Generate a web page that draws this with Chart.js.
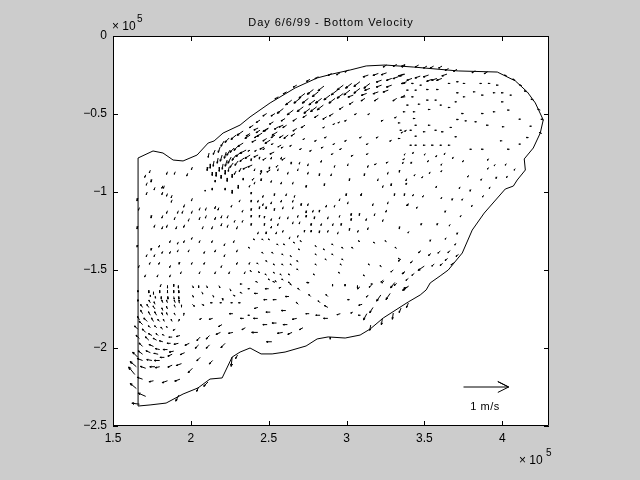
<!DOCTYPE html>
<html>
<head>
<meta charset="utf-8">
<style>
    html, body { margin: 0; padding: 0; background: #cccccc; }
    canvas { display: block; }
</style>
<script src="https://cdn.jsdelivr.net/npm/chart.js@4"></script>
</head>
<body>
<canvas id="chart" width="640" height="480"></canvas>
<script>
// axis ticks (x and y in units of 10^5)
const xTicks = [1.5, 2, 2.5, 3, 3.5, 4];
const yTicks = [0, -0.5, -1, -1.5, -2, -2.5];

// shoreline
const coastX = [1.661,1.661,1.757,1.821,1.886,1.950,2.040,2.111,2.149,2.207,2.316,2.380,2.509,2.670,2.811,2.907,3.023,3.126,3.248,3.428,3.717,3.968,4.084,4.161,4.212,4.263,4.244,4.199,4.141,4.148,4.096,4.071,4.019,3.884,3.807,3.743,3.653,3.601,3.537,3.511,3.473,3.396,3.235,3.152,3.087,2.991,2.882,2.811,2.740,2.605,2.522,2.451,2.380,2.316,2.265,2.201,2.123,2.046,1.950,1.841,1.738,1.661];
const coastY = [-2.372,-0.782,-0.737,-0.750,-0.795,-0.801,-0.763,-0.686,-0.673,-0.622,-0.571,-0.519,-0.429,-0.333,-0.269,-0.244,-0.218,-0.192,-0.186,-0.199,-0.224,-0.231,-0.288,-0.359,-0.429,-0.538,-0.622,-0.718,-0.788,-0.859,-0.923,-0.962,-0.981,-1.135,-1.244,-1.391,-1.500,-1.538,-1.583,-1.628,-1.660,-1.705,-1.808,-1.878,-1.917,-1.936,-1.929,-1.942,-1.987,-2.026,-2.038,-2.038,-2.000,-2.026,-2.058,-2.192,-2.199,-2.256,-2.295,-2.353,-2.365,-2.372];

// scale arrow, 1 m/s
const keyX = [3.751];
const keyY = [-2.25];
const keyU = [1];
const keyV = [0];

// velocities in m/s at each station
const upperWestX = [1.74,1.71,1.85,1.90,1.98,2.01,1.75,1.72,1.82,1.83,1.77,1.72,1.82,1.85,1.88,1.66,1.88,2.01,1.96,1.92,2.06,2.10,2.16,1.67,1.85,1.95,2.01,2.18,1.75,1.82,1.90,1.99,2.06,2.10,2.16,2.20,2.24,1.66,1.77,1.82,1.85,1.91,1.96,2.08,2.14,2.20,2.24,2.30];
const upperWestY = [-0.86,-0.89,-0.87,-0.87,-0.88,-0.84,-0.92,-0.94,-0.96,-0.96,-0.97,-1.00,-1.00,-1.01,-1.02,-1.04,-1.05,-1.04,-1.08,-1.12,-1.10,-1.10,-1.09,-1.10,-1.12,-1.12,-1.12,-1.10,-1.15,-1.15,-1.16,-1.17,-1.16,-1.15,-1.16,-1.15,-1.15,-1.22,-1.21,-1.22,-1.21,-1.22,-1.21,-1.22,-1.22,-1.20,-1.21,-1.22];
const midWestX = [1.66,1.75,1.80,1.87,1.92,1.96,2.01,2.06,2.14,2.22,2.28,1.72,1.77,1.82,1.87,1.92,1.99,2.09,2.16,2.22,2.30,1.67,1.74,1.80,1.87,1.93,2.01,2.09,2.20,2.30,2.38,1.71,1.79,1.87,1.94,2.06,2.16,2.25,2.35];
const midWestY = [-1.34,-1.36,-1.34,-1.31,-1.32,-1.31,-1.29,-1.31,-1.31,-1.33,-1.31,-1.40,-1.40,-1.38,-1.38,-1.37,-1.37,-1.38,-1.37,-1.40,-1.37,-1.47,-1.45,-1.45,-1.47,-1.45,-1.45,-1.45,-1.47,-1.45,-1.45,-1.53,-1.53,-1.53,-1.51,-1.51,-1.51,-1.51,-1.51];

const eddyX = [2.336,2.304,2.278,2.252,2.227,2.201,2.175,2.149,2.124,2.355,2.323,2.291,2.259,2.233,2.207,2.182,2.162,2.137,2.381,2.342,2.304,2.272,2.246,2.22,2.194,2.394,2.362,2.323,2.291,2.265,2.233,2.336,2.291,2.246,2.214,2.188,2.156,2.117,2.419,2.458,2.497,2.381,2.432,2.471,2.51,2.555,2.593,2.432,2.484,2.535,2.58,2.625,2.458,2.51,2.561,2.606,2.407,2.336,2.381,2.304,2.265,2.22,2.137,2.092,2.317,2.265,2.336,2.285,2.336,2.11,2.156];
const eddyY = [-0.686,-0.705,-0.718,-0.731,-0.744,-0.763,-0.782,-0.801,-0.82,-0.731,-0.744,-0.763,-0.776,-0.795,-0.82,-0.84,-0.872,-0.872,-0.763,-0.782,-0.801,-0.814,-0.84,-0.859,-0.891,-0.827,-0.84,-0.846,-0.865,-0.885,-0.91,-0.609,-0.635,-0.654,-0.673,-0.712,-0.731,-0.75,-0.667,-0.622,-0.59,-0.635,-0.59,-0.712,-0.667,-0.615,-0.571,-0.763,-0.782,-0.744,-0.699,-0.635,-0.872,-0.859,-0.827,-0.782,-0.91,-0.91,-0.955,-0.955,-0.987,-0.974,-0.974,-0.987,-1.05,-1.083,-1.115,-1.18,-1.18,-0.84,-0.923];
const eddyU = [-0.11,-0.09,-0.09,-0.07,-0.04,-0.04,-0.02,-0.02,0,-0.13,-0.11,-0.09,-0.07,-0.04,-0.02,0,0,0,-0.11,-0.09,-0.07,-0.07,-0.02,0,0,-0.09,-0.09,-0.04,-0.04,0,0,-0.13,-0.11,-0.09,-0.07,-0.04,-0.04,-0.02,-0.09,-0.11,-0.11,-0.11,-0.09,-0.09,-0.11,-0.11,-0.09,-0.09,-0.07,-0.09,-0.07,-0.09,-0.04,-0.07,-0.04,-0.07,-0.04,0,-0.02,0,0,0,0,0,-0.02,-0.02,-0.02,-0.02,-0.02,-0.02,0];
const eddyV = [-0.07,-0.09,-0.09,-0.11,-0.13,-0.13,-0.11,-0.11,-0.09,-0.07,-0.09,-0.11,-0.13,-0.13,-0.11,-0.09,-0.09,-0.07,-0.07,-0.07,-0.09,-0.09,-0.09,-0.09,-0.07,-0.04,-0.04,-0.07,-0.07,-0.07,-0.07,-0.09,-0.09,-0.09,-0.11,-0.11,-0.09,-0.09,-0.04,-0.07,-0.07,-0.07,-0.04,-0.04,-0.07,-0.07,-0.04,-0.04,-0.04,-0.04,-0.04,-0.07,-0.04,-0.04,-0.04,-0.04,-0.04,-0.04,-0.04,-0.07,-0.07,-0.04,-0.04,-0.02,-0.04,-0.04,-0.04,-0.04,-0.04,-0.07,-0.04];

const gyreX = [1.81,1.85,1.89,1.92,1.73,1.76,1.80,1.85,1.89,1.92,1.74,1.77,1.81,1.85,1.89,1.92,1.66,1.66,1.74,1.77,1.82,1.85,1.90,1.93,1.69,1.73,1.77,1.82,1.85,1.90,1.94,1.69,1.74,1.78,1.82,1.85,1.90,1.95,1.67,1.72,1.76,1.80,1.83,1.88,1.92,1.69,1.74,1.78,1.82,1.85,1.90,1.66,1.71,1.75,1.79,1.83,1.88,1.93,1.67,1.73,1.78,1.82,1.87,1.92,1.99,2.06,2.12,2.19,1.69,1.76,1.80,1.85,1.89,1.96,2.05,2.12,2.22,1.66,1.69,1.74,1.79,1.83,1.88,2.06,2.14,1.65,1.69,1.75,1.80,1.88,1.94,2.01,1.64,1.71,1.77,1.80,1.65,1.69,1.76,1.85,1.93,1.71,1.67];
const gyreY = [-1.59,-1.60,-1.59,-1.60,-1.63,-1.64,-1.63,-1.63,-1.63,-1.63,-1.66,-1.67,-1.67,-1.67,-1.67,-1.67,-1.63,-1.69,-1.71,-1.72,-1.71,-1.71,-1.71,-1.71,-1.74,-1.74,-1.75,-1.76,-1.75,-1.74,-1.74,-1.78,-1.79,-1.79,-1.79,-1.79,-1.79,-1.79,-1.82,-1.83,-1.83,-1.83,-1.83,-1.83,-1.83,-1.85,-1.87,-1.87,-1.88,-1.87,-1.88,-1.88,-1.90,-1.92,-1.92,-1.92,-1.93,-1.92,-1.94,-1.95,-1.95,-1.96,-1.97,-1.97,-1.97,-1.93,-1.92,-1.90,-1.99,-1.99,-2.01,-2.01,-2.02,-2.03,-1.98,-1.98,-1.97,-2.06,-2.04,-2.03,-2.04,-2.06,-2.04,-2.06,-2.08,-2.12,-2.08,-2.08,-2.08,-2.11,-2.10,-2.13,-2.17,-2.13,-2.12,-2.12,-2.26,-2.20,-2.21,-2.21,-2.20,-2.31,-2.36];
const gyreU = [-0.02,0,0,0,0,0,0,0,0,0.01,0,0.01,0,0.01,0.01,0.01,0,0,-0.03,-0.02,-0.02,-0.02,-0.02,-0.02,-0.04,-0.04,-0.04,-0.02,-0.02,-0.02,0,-0.04,-0.04,-0.04,-0.02,-0.02,-0.02,0.02,-0.04,-0.07,-0.04,-0.04,-0.02,-0.02,0.02,-0.07,-0.04,-0.04,-0.04,-0.02,-0.04,-0.07,-0.07,-0.07,-0.04,-0.04,-0.07,-0.07,-0.07,-0.07,-0.07,-0.07,-0.07,-0.09,-0.09,-0.07,-0.07,-0.09,-0.07,-0.09,-0.09,-0.09,-0.09,-0.09,-0.07,-0.07,-0.09,-0.11,-0.09,-0.09,-0.09,-0.09,-0.09,-0.07,-0.07,-0.13,-0.11,-0.11,-0.11,-0.09,-0.11,-0.09,-0.13,-0.11,-0.11,-0.09,-0.13,-0.11,-0.09,-0.11,-0.11,-0.16,-0.16];
const gyreV = [-0.05,-0.05,-0.05,-0.05,-0.05,-0.05,-0.05,-0.05,-0.05,-0.05,-0.03,-0.03,-0.05,-0.05,-0.05,-0.05,-0.03,-0.03,0.05,0.05,0.05,0.05,0.05,0.05,0.06,0.06,0.06,0.05,0.05,0.05,0.05,0.07,0.07,0.07,0.05,0.05,0.04,0.04,0.07,0.07,0.07,0.04,0.04,0.04,0.04,0.07,0.04,0.04,0.04,0.02,-0.02,0.07,0.07,0.04,0.04,0.02,0,-0.02,0.07,0.07,0.04,0.02,0,-0.02,-0.04,-0.07,-0.07,-0.04,0.07,0.04,0.02,0,-0.02,-0.04,-0.07,-0.07,-0.09,0.11,0.07,0.04,0.02,0,-0.04,-0.07,-0.07,0.11,0.04,0.02,0,-0.04,-0.04,-0.09,0.16,0.04,0,-0.02,0.11,0.04,-0.02,-0.04,-0.04,0.07,0.02];

const southX = [2.43,2.54,2.64,2.76,2.91,2.99,3.07,3.17,3.24,3.31,3.39,2.38,2.50,2.58,2.70,2.77,2.88,3.02,3.14,3.22,3.28,2.43,2.49,2.55,2.63,2.69,2.83,2.88,3.10,3.17,2.43,2.51,2.61,2.76,2.83,2.96,3.04,3.09,3.13,2.38,2.43,2.68,2.88,2.49,2.55,2.62,2.72,2.43,2.59,2.65,2.52,2.01,2.05,2.10,2.18,2.25,2.33,2.01,2.07,2.14,2.20,2.27,2.33,2.01,2.07,2.14,2.20,2.27,2.32,2.07,2.14,2.20,2.27,2.34,2.27,2.35];
const southY = [-1.58,-1.58,-1.59,-1.58,-1.59,-1.59,-1.60,-1.59,-1.57,-1.58,-1.61,-1.62,-1.62,-1.61,-1.63,-1.67,-1.67,-1.69,-1.66,-1.66,-1.65,-1.65,-1.69,-1.69,-1.67,-1.72,-1.71,-1.74,-1.72,-1.74,-1.74,-1.77,-1.76,-1.78,-1.79,-1.78,-1.77,-1.79,-1.78,-1.79,-1.81,-1.81,-1.81,-1.85,-1.84,-1.85,-1.87,-1.90,-1.90,-1.90,-1.96,-1.60,-1.60,-1.60,-1.60,-1.62,-1.59,-1.66,-1.64,-1.66,-1.68,-1.66,-1.65,-1.72,-1.72,-1.71,-1.71,-1.71,-1.71,-1.81,-1.81,-1.85,-1.78,-1.81,-1.90,-1.87];
const southU = [-0.04,-0.04,-0.04,-0.04,0,0,0,-0.04,-0.04,-0.09,-0.07,-0.04,-0.07,-0.04,-0.04,-0.04,-0.04,-0.04,-0.04,-0.09,-0.09,-0.07,-0.07,-0.07,-0.07,-0.04,-0.04,-0.07,-0.07,-0.07,-0.07,-0.09,-0.09,-0.07,-0.09,-0.07,-0.04,-0.04,-0.07,-0.04,-0.09,-0.09,-0.09,-0.09,-0.09,-0.09,-0.07,-0.13,-0.11,-0.09,-0.11,0.02,0,0.02,0.02,0.02,-0.04,0.02,0.02,0.02,0.02,0.04,-0.04,0.04,0.04,-0.04,-0.04,-0.04,-0.04,-0.04,-0.07,-0.07,-0.07,-0.07,-0.09,-0.07];
const southV = [0.02,0.02,0.04,0,-0.04,-0.04,-0.04,0,-0.04,-0.11,-0.02,0,0,-0.02,0.04,0.04,0.04,0,-0.04,-0.13,-0.13,0,0,0,0,0.04,0.04,0.04,-0.02,-0.11,-0.02,0,0,0,0,-0.02,-0.02,0,-0.13,0,0,-0.02,0,0,0,0,-0.04,0,-0.02,-0.04,0,-0.04,-0.04,-0.04,-0.04,-0.04,0,-0.04,-0.04,-0.04,-0.04,-0.02,0.02,-0.04,-0.02,0,0,0,0,-0.02,-0.02,-0.04,0,0,-0.02,-0.04];

const northBandX = [2.855,2.787,2.819,2.733,2.701,2.648,2.755,2.797,2.84,2.894,2.941,2.979,3.033,3.086,2.851,2.808,2.765,2.722,2.658,2.594,2.926,3.022,3.086,3.15,2.979];
const northBandY = [-0.321,-0.343,-0.358,-0.368,-0.4,-0.411,-0.4,-0.411,-0.4,-0.379,-0.347,-0.315,-0.304,-0.293,-0.443,-0.454,-0.465,-0.454,-0.475,-0.465,-0.4,-0.347,-0.336,-0.304,-0.368];
const northEastX = [3.14,3.204,3.257,3.375,3.225,3.29,3.332,3.386,3.15,3.225,3.29,3.129,3.204,3.268,3.043,3.366,3.42,3.473,3.527,3.58,3.645,3.548,3.612];
const northEastY = [-0.25,-0.24,-0.236,-0.244,-0.283,-0.272,-0.261,-0.293,-0.336,-0.315,-0.315,-0.368,-0.358,-0.347,-0.379,-0.244,-0.272,-0.257,-0.25,-0.272,-0.244,-0.278,-0.272];
const northInnerX = [2.54,2.487,2.444,2.53,2.605,2.68,2.744,2.819,2.872,2.915,2.979,3.043,3.118,3.204,3.322,3.375,2.401,2.444,2.498,2.562,2.615,2.68,2.733,2.38,2.434,2.487,2.54,2.594,2.669];
const northInnerY = [-0.497,-0.497,-0.539,-0.55,-0.529,-0.529,-0.507,-0.507,-0.518,-0.497,-0.454,-0.422,-0.4,-0.4,-0.4,-0.379,-0.572,-0.604,-0.593,-0.582,-0.572,-0.593,-0.572,-0.625,-0.636,-0.657,-0.636,-0.636,-0.625];
const basinTopX = [2.861,2.926,2.958,3.001,3.065,3.15,3.236,3.322,3.386,2.733,2.808,2.872,2.926,3.001,3.097,3.14,3.204,3.29,3.364,2.38,2.423,2.476,2.53,2.594,2.648,2.712,2.776,2.851,2.915,2.969,3.043,3.14,3.193,3.268,3.375];
const basinTopY = [-0.582,-0.561,-0.55,-0.539,-0.497,-0.497,-0.539,-0.518,-0.604,-0.657,-0.668,-0.646,-0.689,-0.668,-0.646,-0.689,-0.646,-0.668,-0.614,-0.732,-0.732,-0.721,-0.689,-0.711,-0.7,-0.721,-0.732,-0.711,-0.753,-0.721,-0.764,-0.753,-0.818,-0.807,-0.786];
const basinMidX = [2.391,2.444,2.519,2.583,2.648,2.701,2.755,2.84,2.926,3.011,3.14,3.268,3.343,2.412,2.455,2.508,2.562,2.626,2.69,2.755,2.829,2.904,3.022,3.118,3.204,3.29,3.386,2.412,2.455,2.519,2.583,2.658,2.744,2.861,3.236,3.311,3.375,2.391,2.466,2.54,2.615,2.669,2.958,3.001,3.097];
const basinMidY = [-0.786,-0.775,-0.775,-0.775,-0.807,-0.807,-0.818,-0.796,-0.828,-0.818,-0.828,-0.871,-0.86,-0.85,-0.86,-0.839,-0.85,-0.871,-0.85,-0.871,-0.882,-0.882,-0.914,-0.882,-0.914,-0.946,-0.914,-0.935,-0.914,-0.925,-0.935,-0.935,-0.957,-0.946,-0.957,-1.01,-1.01,-1.0,-1.02,-1.01,-1.01,-1.02,-1.042,-1.01,-1.01];
const centerX = [2.391,2.434,2.466,2.519,2.583,2.658,2.712,2.755,2.391,2.444,2.487,2.54,2.594,2.658,2.744,2.787,2.829,2.872,2.926,3.011,3.097,3.172,3.268,3.397,2.391,2.444,2.476,2.519,2.573,2.626,2.69,2.744,2.797,2.883,2.958,3.033,3.086,3.183,3.257,2.391,2.476,2.519,2.562,2.658,2.701,2.776,2.84,2.915,2.969,3.033,3.129,3.236,2.434,2.487,2.551,2.594,2.637,2.69,2.733,2.776,2.829,2.883,2.947,3.022,3.076,3.14,3.343];
const centerY = [-1.051,-1.051,-1.073,-1.062,-1.051,-1.051,-1.073,-1.073,-1.105,-1.094,-1.094,-1.105,-1.094,-1.094,-1.12,-1.115,-1.115,-1.083,-1.083,-1.062,-1.008,-1.073,-1.062,-1.073,-1.148,-1.148,-1.154,-1.169,-1.158,-1.158,-1.148,-1.148,-1.158,-1.158,-1.148,-1.137,-1.137,-1.137,-1.115,-1.201,-1.201,-1.218,-1.201,-1.19,-1.19,-1.201,-1.201,-1.201,-1.201,-1.169,-1.169,-1.175,-1.255,-1.255,-1.255,-1.244,-1.287,-1.276,-1.244,-1.244,-1.248,-1.244,-1.255,-1.233,-1.244,-1.227,-1.222];
const centerSouthX = [2.412,2.466,2.508,2.562,2.605,2.669,2.712,2.808,2.861,2.915,2.979,3.043,3.086,3.183,3.257,2.38,2.466,2.53,2.594,2.648,2.701,2.808,2.915,2.979,3.322,3.343,2.434,2.491,2.54,2.594,2.648,2.69,2.808,2.872,2.969,3.15,3.225,2.391,2.444,2.487,2.54,2.583,2.637,2.69,2.797,2.958,3.118,2.508,2.551,2.594,2.648,2.755];
const centerSouthY = [-1.308,-1.308,-1.308,-1.34,-1.34,-1.329,-1.319,-1.351,-1.372,-1.34,-1.362,-1.362,-1.319,-1.329,-1.319,-1.362,-1.394,-1.394,-1.404,-1.415,-1.372,-1.404,-1.404,-1.436,-1.362,-1.432,-1.462,-1.447,-1.469,-1.469,-1.469,-1.447,-1.469,-1.436,-1.469,-1.469,-1.479,-1.511,-1.518,-1.533,-1.522,-1.533,-1.533,-1.5,-1.533,-1.522,-1.539,-1.565,-1.576,-1.565,-1.597,-1.586];
const eastX = [3.377,3.431,3.484,3.666,3.72,3.762,3.869,3.923,3.976,3.399,3.452,3.527,3.591,3.72,3.827,3.88,3.955,4.008,4.062,3.377,3.431,3.527,3.58,3.709,3.762,4.008,4.047,3.399,3.473,3.538,3.613,3.666,3.752,3.88,3.955,4.12,3.377,3.441,3.72,3.773,3.837,3.912,4.013,4.19,3.345,3.441,3.452,3.538,3.58,3.677,4.169,3.356,3.42,3.452,3.506,3.623,3.709,4.0,3.345,3.42,3.452,3.506,3.559,3.613,3.666,3.805,3.88,4.047,4.12];
const eastY = [-0.304,-0.304,-0.315,-0.304,-0.293,-0.304,-0.304,-0.304,-0.315,-0.347,-0.347,-0.343,-0.343,-0.364,-0.358,-0.379,-0.364,-0.364,-0.379,-0.39,-0.39,-0.411,-0.411,-0.422,-0.39,-0.422,-0.475,-0.443,-0.437,-0.471,-0.443,-0.458,-0.497,-0.497,-0.486,-0.533,-0.486,-0.486,-0.535,-0.544,-0.55,-0.572,-0.582,-0.578,-0.557,-0.529,-0.572,-0.572,-0.604,-0.586,-0.651,-0.604,-0.604,-0.642,-0.614,-0.614,-0.646,-0.672,-0.657,-0.7,-0.7,-0.7,-0.7,-0.7,-0.7,-0.726,-0.726,-0.726,-0.693];
const eastSouthX = [3.377,3.431,3.506,3.58,3.634,3.687,3.752,3.912,3.366,3.42,3.527,3.613,3.912,3.955,4.026,4.083,3.441,3.49,3.538,3.613,3.784,3.869,3.966,4.034,3.388,3.58,3.73,3.799,3.923,3.431,3.495,3.613,3.683,3.747,3.88,3.392,3.456,3.809,3.638,3.737,3.484,3.587,3.666,3.401,3.715,3.542,3.64,3.702];
const eastSouthY = [-0.753,-0.743,-0.753,-0.764,-0.749,-0.775,-0.796,-0.786,-0.807,-0.807,-0.796,-0.818,-0.843,-0.822,-0.818,-0.85,-0.886,-0.899,-0.871,-0.86,-0.893,-0.914,-0.903,-0.897,-0.942,-0.961,-0.967,-0.985,-0.967,-1.014,-1.021,-1.032,-1.042,-1.042,-1.021,-1.077,-1.094,-1.083,-1.12,-1.148,-1.201,-1.201,-1.207,-1.252,-1.261,-1.306,-1.293,-1.329];
const southEastX = [3.478,3.542,3.602,3.666,3.719,3.349,3.426,3.563,3.617,3.649,3.687,3.3,3.375,3.236,3.322,3.397,3.373,3.435,3.086,3.161,3.386];
const southEastY = [-1.376,-1.394,-1.379,-1.376,-1.4,-1.43,-1.441,-1.462,-1.458,-1.426,-1.454,-1.5,-1.511,-1.565,-1.586,-1.554,-1.511,-1.522,-1.608,-1.597,-1.612];
const longSouthEastX = [3.499,3.399];
const longSouthEastY = [-1.475,-1.603];

// short arrows sitting on the shoreline
const shoreNorthX = [2.562,2.615,2.68,2.765,2.819,2.904,2.958,3.011,3.257,3.322,3.375,3.377,3.463,3.516,3.559,3.613,3.655,3.709,3.827,3.906];
const shoreNorthY = [-0.39,-0.358,-0.315,-0.278,-0.261,-0.24,-0.236,-0.218,-0.186,-0.182,-0.182,-0.186,-0.186,-0.193,-0.193,-0.193,-0.208,-0.214,-0.223,-0.229];
const shoreEastX = [4.03,4.083,4.126,4.158,4.201,4.244,4.265,4.254];
const shoreEastY = [-0.257,-0.283,-0.319,-0.358,-0.411,-0.475,-0.539,-0.625];
const shoreSouthX = [3.155,3.23,3.30,3.35,3.397,2.895,2.265,2.30,2.11,2.05,1.924];
const shoreSouthY = [-1.853,-1.81,-1.776,-1.744,-1.712,-1.93,-2.058,-2.045,-2.218,-2.25,-2.301];
const shoreSouthU = [-0.02,-0.02,-0.02,-0.04,-0.04,0,-0.02,-0.04,-0.09,-0.04,-0.07];
const shoreSouthV = [-0.11,-0.13,-0.13,-0.09,-0.09,-0.04,-0.2,-0.07,-0.09,-0.09,-0.13];

const TITLE = 'Day 6/6/99 - Bottom Velocity';

const ARROW_SCALE = 0.29; // x/y units (10^5) per 1 m/s
const HEAD_BACK = 0.24;
const HEAD_SIDE = 0.12;

const arrowSegments = [];
const arrowTips = [];

// each arrow: base, tip, one barb, tip, other barb, then a gap
function addArrows(xs, ys, us, vs, withTip = true) {
    xs.forEach((x, i) => {
        const u = (Array.isArray(us) ? us[i] : us) * ARROW_SCALE;
        const v = (Array.isArray(vs) ? vs[i] : vs) * ARROW_SCALE;
        const y = ys[i];
        const tip = { x: x + u, y: y + v };
        const bx = tip.x - HEAD_BACK * u;
        const by = tip.y - HEAD_BACK * v;
        arrowSegments.push({ x, y }, tip,
            { x: bx - HEAD_SIDE * v, y: by + HEAD_SIDE * u }, tip,
            { x: bx + HEAD_SIDE * v, y: by - HEAD_SIDE * u },
            { x: NaN, y: NaN });
        if (withTip) arrowTips.push(tip);
    });
}

addArrows(upperWestX, upperWestY, -0.02, -0.05);
addArrows(midWestX, midWestY, -0.02, -0.04);
addArrows(eddyX, eddyY, eddyU, eddyV);
addArrows(gyreX, gyreY, gyreU, gyreV);
addArrows(southX, southY, southU, southV);
addArrows(northBandX, northBandY, -0.13, -0.1);
addArrows(northEastX, northEastY, -0.11, -0.04);
addArrows(northInnerX, northInnerY, -0.08, -0.05);
addArrows(basinTopX, basinTopY, -0.04, -0.02);
addArrows(basinMidX, basinMidY, -0.015, -0.04);
addArrows(centerX, centerY, -0.015, -0.04);
addArrows(centerSouthX, centerSouthY, -0.03, 0.02);
addArrows(eastX, eastY, -0.04, 0);
addArrows(eastSouthX, eastSouthY, -0.02, -0.03);
addArrows(southEastX, southEastY, -0.05, -0.04);
addArrows(longSouthEastX, longSouthEastY, -0.13, -0.09);
addArrows(shoreNorthX, shoreNorthY, -0.07, -0.04);
addArrows(shoreEastX, shoreEastY, -0.05, 0.02);
addArrows(shoreSouthX, shoreSouthY, shoreSouthU, shoreSouthV);
addArrows(keyX, keyY, keyU, keyV, false);

const FONT = '"Liberation Sans", Helvetica, Arial, sans-serif';

// white plot background
const plotBackground = {
    id: 'plotBackground',
    beforeDraw(chart) {
        const { ctx, chartArea: a } = chart;
        ctx.save();
        ctx.fillStyle = '#ffffff';
        ctx.fillRect(a.left, a.top, a.width, a.height);
        ctx.restore();
    }
};

// box, inward ticks on all four sides, title, exponents and the arrow caption
const matlabFrame = {
    id: 'matlabFrame',
    afterDraw(chart) {
        const { ctx, chartArea: a, scales } = chart;
        ctx.save();
        ctx.strokeStyle = '#000000';
        ctx.lineWidth = 1;
        ctx.beginPath();
        ctx.rect(a.left + 0.5, a.top + 0.5, a.width - 1, a.height - 1);
        xTicks.forEach(v => {
            const p = Math.round(scales.x.getPixelForValue(v)) + 0.5;
            ctx.moveTo(p, a.top); ctx.lineTo(p, a.top + 5);
            ctx.moveTo(p, a.bottom); ctx.lineTo(p, a.bottom - 5);
        });
        yTicks.forEach(v => {
            const p = Math.round(scales.y.getPixelForValue(v)) + 0.5;
            ctx.moveTo(a.left, p); ctx.lineTo(a.left + 5, p);
            ctx.moveTo(a.right, p); ctx.lineTo(a.right - 5, p);
        });
        ctx.stroke();

        ctx.fillStyle = '#000000';
        ctx.textBaseline = 'middle';
        ctx.textAlign = 'center';
        ctx.font = '11px ' + FONT;
        ctx.letterSpacing = '0.95px';
        ctx.fillText(TITLE, (a.left + a.right) / 2, 23);
        ctx.letterSpacing = '0.5px';
        ctx.fillText('1 m/s', scales.x.getPixelForValue(3.889), scales.y.getPixelForValue(-2.377));
        ctx.letterSpacing = '0px';

        ctx.textAlign = 'left';
        ctx.font = '12px ' + FONT;
        ctx.fillText('× 10', 112, 27);
        ctx.fillText('× 10', 519, 461);
        ctx.font = '10px ' + FONT;
        ctx.fillText('5', 137, 19);
        ctx.fillText('5', 546, 453);
        ctx.restore();
    }
};

new Chart(document.getElementById('chart').getContext('2d'), {
    type: 'scatter',
    data: {
        datasets: [
            {
                label: 'velocity',
                data: arrowSegments,
                showLine: true,
                spanGaps: false,
                borderColor: '#000000',
                borderWidth: 1,
                pointRadius: 0,
                tension: 0
            },
            {
                label: 'arrow tips',
                data: arrowTips,
                showLine: false,
                pointRadius: 0.7,
                pointBorderWidth: 0,
                pointBackgroundColor: '#000000'
            },
            {
                label: 'coast',
                data: coastX.map((x, i) => ({ x, y: coastY[i] })),
                showLine: true,
                borderColor: '#000000',
                borderWidth: 1,
                pointRadius: 0,
                tension: 0
            }
        ]
    },
    options: {
        responsive: false,
        animation: false,
        layout: { padding: { right: 91, top: 36, left: 0, bottom: 0 } },
        plugins: {
            legend: { display: false },
            tooltip: { enabled: false },
            title: { display: false }
        },
        scales: {
            x: {
                type: 'linear',
                min: 1.5,
                max: 4.3,
                grid: { display: false, drawTicks: false },
                border: { display: false },
                afterBuildTicks: s => { s.ticks = xTicks.map(value => ({ value })); },
                afterFit: s => { s.height = 54; },
                ticks: {
                    color: '#000000',
                    padding: 5,
                    maxRotation: 0,
                    autoSkip: false,
                    font: { family: FONT, size: 12 },
                    callback: v => String(v)
                }
            },
            y: {
                type: 'linear',
                min: -2.5,
                max: 0,
                grid: { display: false, drawTicks: false },
                border: { display: false },
                afterBuildTicks: s => { s.ticks = yTicks.map(value => ({ value })); },
                afterFit: s => { s.width = 113; },
                ticks: {
                    color: '#000000',
                    padding: 6,
                    autoSkip: false,
                    font: { family: FONT, size: 12 },
                    callback: v => String(v).replace('-', '\u2212')
                }
            }
        }
    },
    plugins: [plotBackground, matlabFrame]
});
</script>
</body>
</html>
